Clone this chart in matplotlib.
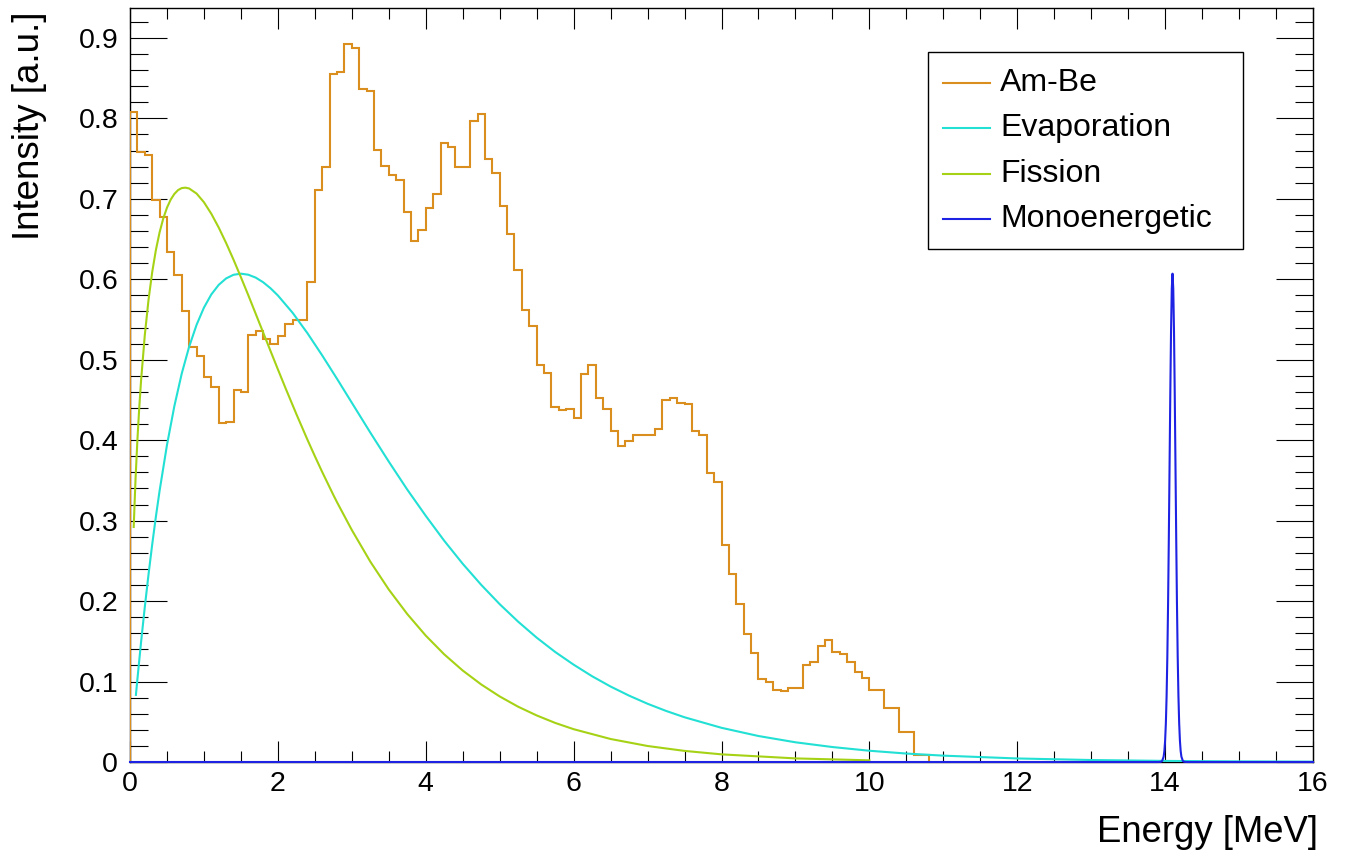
import numpy as np
import matplotlib
matplotlib.use("Agg")
import matplotlib.pyplot as plt
from matplotlib.ticker import MultipleLocator, FixedLocator
from matplotlib.patches import Rectangle
from matplotlib.lines import Line2D

plt.rcParams['font.family'] = ['Liberation Sans', 'DejaVu Sans']

# ---------------- data ----------------
# Am-Be histogram: 0.1 MeV bins from 0 to 10.8 MeV
ambe_edges_range = (0.0, 10.8)
ambe_values = [
    0.808, 0.758, 0.754, 0.699, 0.677, 0.634, 0.605, 0.560, 0.516, 0.505,
    0.478, 0.466, 0.421, 0.422, 0.462, 0.460, 0.531, 0.536, 0.526, 0.520,
    0.530, 0.544, 0.549, 0.550, 0.597, 0.711, 0.740, 0.855, 0.858, 0.892,
    0.888, 0.837, 0.834, 0.761, 0.741, 0.730, 0.724, 0.684, 0.647, 0.661,
    0.689, 0.706, 0.770, 0.764, 0.740, 0.740, 0.797, 0.806, 0.750, 0.732,
    0.691, 0.656, 0.611, 0.562, 0.542, 0.494, 0.483, 0.441, 0.437, 0.439,
    0.428, 0.482, 0.493, 0.453, 0.439, 0.412, 0.393, 0.399, 0.406, 0.406,
    0.406, 0.414, 0.450, 0.452, 0.446, 0.445, 0.412, 0.407, 0.359, 0.348,
    0.270, 0.234, 0.196, 0.159, 0.136, 0.103, 0.100, 0.0895, 0.0887, 0.0916,
    0.0924, 0.1206, 0.124, 0.1446, 0.152, 0.137, 0.134, 0.124, 0.112, 0.104,
    0.0895, 0.0895, 0.0675, 0.0675, 0.0377, 0.0377, 0.0087, 0.0087,
]

evap_E = [0.08, 0.1, 0.15, 0.2, 0.25, 0.3, 0.35, 0.4, 0.5, 0.6, 0.7, 0.8, 0.9,
          1.0, 1.1, 1.2, 1.3, 1.4, 1.5, 1.6, 1.7, 1.8, 1.9, 2.0, 2.2, 2.4,
          2.6, 2.8, 3.0, 3.25, 3.5, 3.75, 4.0, 4.25, 4.5, 4.75, 5.0, 5.25,
          5.5, 5.75, 6.0, 6.25, 6.5, 6.75, 7.0, 7.25, 7.5, 8.0, 8.5, 9.0,
          9.5, 10.0, 10.5, 11.0, 12.0, 13.0, 14.0, 15.0, 16.0]
evap_I = [0.0834, 0.1029, 0.1493, 0.1925, 0.2328, 0.2702, 0.3049, 0.3370,
          0.394, 0.4424, 0.4829, 0.5162, 0.5433, 0.5648, 0.5812, 0.5931,
          0.6011, 0.6056, 0.607, 0.6057, 0.6021, 0.5964, 0.5889, 0.5799,
          0.5583, 0.5330, 0.5053, 0.4763, 0.4466, 0.4095, 0.3734, 0.3386,
          0.306, 0.2750, 0.2464, 0.2202, 0.1962, 0.1744, 0.1546, 0.1368,
          0.121, 0.1066, 0.0938, 0.0825, 0.0724, 0.0635, 0.0556, 0.0425,
          0.0323, 0.0245, 0.0186, 0.0140, 0.0105, 0.0079, 0.0044, 0.00246,
          0.00136, 0.00075, 0.00041]

fis_E = [0.05, 0.075, 0.1, 0.125, 0.15, 0.2, 0.25, 0.3, 0.35, 0.4, 0.45, 0.5,
         0.55, 0.6, 0.65, 0.7, 0.75, 0.8, 0.9, 1.0, 1.1, 1.2, 1.3, 1.4, 1.5,
         1.6, 1.7, 1.8, 1.9, 2.0, 2.1, 2.25, 2.4, 2.5, 2.6, 2.75, 2.8, 3.0,
         3.25, 3.5, 3.75, 4.0, 4.25, 4.5, 4.75, 5.0, 5.25, 5.5, 5.75, 6.0,
         6.5, 7.0, 7.5, 8.0, 9.0, 10.0]
fis_I = [0.2921, 0.3521, 0.4001, 0.4402, 0.4745, 0.5304, 0.5741, 0.6087,
         0.6363, 0.6583, 0.6756, 0.6890, 0.6990, 0.7061, 0.7109, 0.7134,
         0.7139, 0.7129, 0.7066, 0.6958, 0.6814, 0.6643, 0.6451, 0.6244,
         0.6026, 0.5802, 0.5572, 0.5341, 0.5110, 0.4881, 0.4655, 0.4325,
         0.4006, 0.3802, 0.3604, 0.3320, 0.3229, 0.2884, 0.2491, 0.2144,
         0.1839, 0.1571, 0.1338, 0.1137, 0.0964, 0.0815, 0.0687, 0.0579,
         0.0486, 0.0408, 0.0286, 0.0199, 0.0138, 0.0095, 0.00448, 0.00207]

mono_E = [0.0, 13.90, 13.94, 13.96, 13.98, 13.99, 14.00, 14.01, 14.02, 14.03,
          14.04, 14.05, 14.06, 14.07, 14.08, 14.09, 14.10, 14.11, 14.12, 14.13,
          14.14, 14.15, 14.16, 14.17, 14.18, 14.19, 14.20, 14.21, 14.22, 14.24,
          14.26, 14.30, 16.0]
mono_I = [0.0, 0.0, 0.0002, 0.0013, 0.0067, 0.0138, 0.0267, 0.0483, 0.0821,
          0.1313, 0.1971, 0.2779, 0.3682, 0.4582, 0.5357, 0.5883, 0.607,
          0.5883, 0.5357, 0.4582, 0.3682, 0.2779, 0.1971, 0.1313, 0.0821,
          0.0483, 0.0267, 0.0138, 0.0067, 0.0013, 0.0002, 0.0, 0.0]

labels = ["Am-Be", "Evaporation", "Fission", "Monoenergetic"]
colors = ["#D98E1E", "#22E0D4", "#A6D216", "#1E22E2"]

x_ticks = [0, 2, 4, 6, 8, 10, 12, 14, 16]
y_ticks = [0, 0.1, 0.2, 0.3, 0.4, 0.5, 0.6, 0.7, 0.8, 0.9]
y_ticklabels = ["0", "0.1", "0.2", "0.3", "0.4", "0.5", "0.6", "0.7", "0.8", "0.9"]

# ---------------- figure ----------------
W, H = 1346, 860
fig = plt.figure(figsize=(W / 100, H / 100), dpi=100)
L, R, T, B = 130, 1313, 8.5, 762
ax = fig.add_axes([L / W, 1 - B / H, (R - L) / W, (B - T) / H])

def px2ax(px, py):
    return (px - L) / (R - L), (B - py) / (B - T)

lw = 1.5
edges = np.linspace(ambe_edges_range[0], ambe_edges_range[1], len(ambe_values) + 1)
ax.stairs(ambe_values, edges, baseline=0, fill=False, color=colors[0], lw=lw, zorder=3)
ax.plot(evap_E, evap_I, color=colors[1], lw=lw, zorder=4)
ax.plot(fis_E, fis_I, color=colors[2], lw=lw, zorder=5)
ax.plot(mono_E, mono_I, color=colors[3], lw=lw, zorder=6, clip_on=False)

ax.set_xlim(0, 16)
ax.set_ylim(0, 0.9366)

ax.xaxis.set_major_locator(FixedLocator(x_ticks))
ax.xaxis.set_minor_locator(MultipleLocator(0.5))
ax.yaxis.set_major_locator(FixedLocator(y_ticks))
ax.yaxis.set_minor_locator(MultipleLocator(0.02))
ax.set_xticklabels([str(v) for v in x_ticks])
ax.set_yticklabels(y_ticklabels)

ax.tick_params(axis='x', which='major', direction='in', length=15.1, width=0.8,
               top=True, labelsize=20.5, pad=6.5)
ax.tick_params(axis='x', which='minor', direction='in', length=7.6, width=0.8, top=True)
ax.tick_params(axis='y', which='major', direction='in', length=26.6, width=0.8,
               right=True, labelsize=20.5, pad=8.5)
ax.tick_params(axis='y', which='minor', direction='in', length=13.3, width=0.8, right=True)
for s in ax.spines.values():
    s.set_linewidth(1.0)

# axis titles (ROOT style, aligned to axis ends)
xt = px2ax(1318, 833)
ax.text(xt[0], xt[1], "Energy [MeV]", transform=ax.transAxes, ha='right',
        va='center', fontsize=26.3)
yt = px2ax(30, 12)
ax.text(yt[0], yt[1], "Intensity [a.u.]", transform=ax.transAxes, ha='center',
        va='top', rotation=90, fontsize=26.5)

# legend box
x0, y0 = px2ax(928, 249)
x1, y1 = px2ax(1243, 52)
ax.add_patch(Rectangle((x0, y0), x1 - x0, y1 - y0, transform=ax.transAxes,
                       facecolor='white', edgecolor='black', lw=1.0,
                       zorder=10, clip_on=False))
rows_py = [83, 128.5, 174, 219.5]
for lab, col, py in zip(labels, colors, rows_py):
    a0, yy = px2ax(943, py)
    a1, _ = px2ax(990, py)
    ax.add_line(Line2D([a0, a1], [yy, yy], transform=ax.transAxes, color=col,
                       lw=lw, zorder=11, clip_on=False))
    tx, _ = px2ax(1000, py)
    ax.text(tx, yy, lab, transform=ax.transAxes, ha='left', va='center',
            fontsize=23, zorder=11)

fig.savefig("out.png", dpi=100)
